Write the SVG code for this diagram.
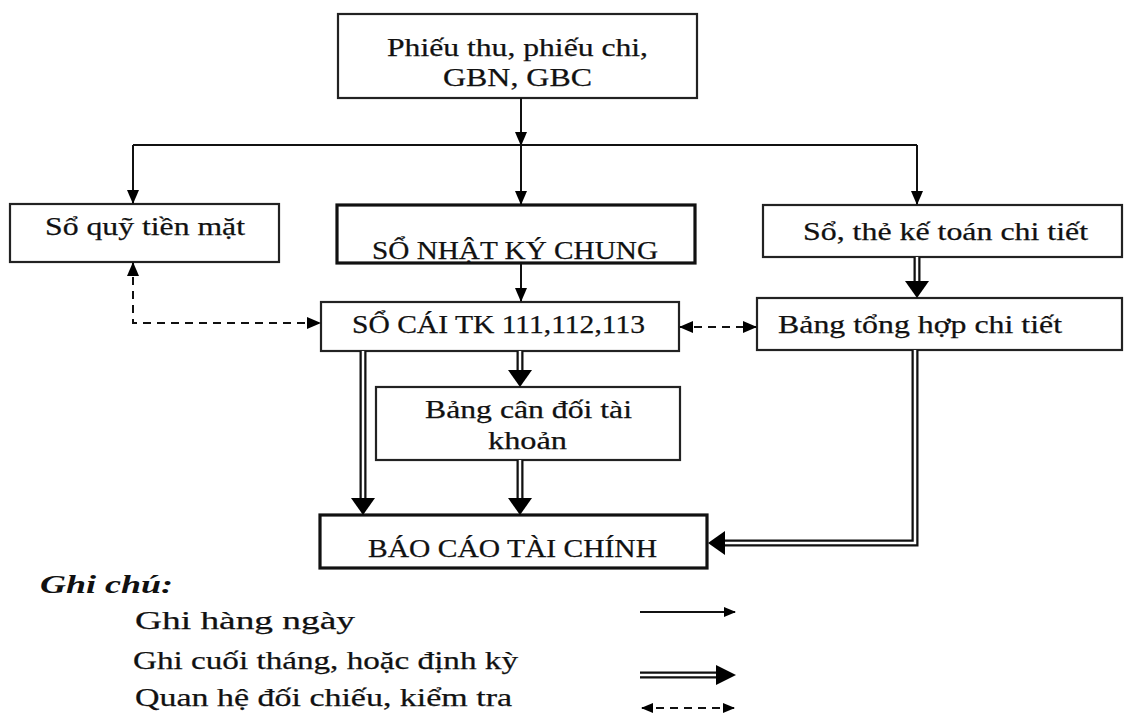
<svg xmlns="http://www.w3.org/2000/svg" width="1125" height="718" viewBox="0 0 1125 718">
  <style>
    .box { fill: #fff; stroke: #222; stroke-width: 2.2; }
    .box-thick { fill: #fff; stroke: #111; stroke-width: 3.2; }
    .lbl { font-family: "Liberation Serif", "Times New Roman", serif; font-size: 26px; fill: #111; stroke: #111; stroke-width: 0.25; }
    .legend-title { font-family: "Liberation Serif", "Times New Roman", serif; font-size: 26px; font-weight: bold; font-style: italic; fill: #111; }
    .line { fill: none; stroke: #111; stroke-width: 2; }
    .dash { fill: none; stroke: #111; stroke-width: 2; stroke-dasharray: 8 6; }
    .dbl-out { fill: none; stroke: #111; stroke-width: 7; }
    .dbl-in { fill: none; stroke: #fff; stroke-width: 2.5; }
    .head { fill: #000; }
  </style>
  <defs>
    <marker id="arrow" markerUnits="userSpaceOnUse" markerWidth="14" markerHeight="12" refX="13" refY="6" orient="auto-start-reverse">
      <path d="M0,0 L14,6 L0,12 z" fill="#000"/>
    </marker>
    <marker id="arrow-small" markerUnits="userSpaceOnUse" markerWidth="12" markerHeight="10" refX="11" refY="5" orient="auto-start-reverse">
      <path d="M0,0 L12,5 L0,10 z" fill="#000"/>
    </marker>
  </defs>

  <!-- nodes -->
  <g id="chung-tu">
    <rect class="box" x="338" y="14" width="359" height="84"/>
    <text class="lbl" x="387" y="56" textLength="261" lengthAdjust="spacingAndGlyphs">Phiếu thu, phiếu chi,</text>
    <text class="lbl" x="443" y="86" textLength="149" lengthAdjust="spacingAndGlyphs">GBN, GBC</text>
  </g>
  <g id="so-quy">
    <rect class="box" x="10" y="204" width="269" height="58"/>
    <text class="lbl" x="45" y="235" textLength="200" lengthAdjust="spacingAndGlyphs">Sổ quỹ tiền mặt</text>
  </g>
  <g id="nhat-ky-chung">
    <rect class="box-thick" x="337" y="205" width="358" height="58"/>
    <text class="lbl" x="372" y="259" textLength="286" lengthAdjust="spacingAndGlyphs">SỔ NHẬT KÝ CHUNG</text>
  </g>
  <g id="so-the-chi-tiet">
    <rect class="box" x="763" y="205" width="359" height="52"/>
    <text class="lbl" x="803" y="240" textLength="285" lengthAdjust="spacingAndGlyphs">Sổ, thẻ kế toán chi tiết</text>
  </g>
  <g id="so-cai">
    <rect class="box" x="321" y="302" width="358" height="49"/>
    <text class="lbl" x="352" y="333" textLength="293" lengthAdjust="spacingAndGlyphs">SỔ CÁI TK 111,112,113</text>
  </g>
  <g id="tong-hop-chi-tiet">
    <rect class="box" x="757" y="298" width="365" height="52"/>
    <text class="lbl" x="778" y="333" textLength="284" lengthAdjust="spacingAndGlyphs">Bảng tổng hợp chi tiết</text>
  </g>
  <g id="can-doi-tai-khoan">
    <rect class="box" x="376" y="387" width="304" height="73"/>
    <text class="lbl" x="425" y="418" textLength="207" lengthAdjust="spacingAndGlyphs">Bảng cân đối tài</text>
    <text class="lbl" x="488" y="449" textLength="79" lengthAdjust="spacingAndGlyphs">khoản</text>
  </g>
  <g id="bao-cao-tai-chinh">
    <rect class="box-thick" x="320" y="515" width="387" height="53"/>
    <text class="lbl" x="368" y="557" textLength="289" lengthAdjust="spacingAndGlyphs">BÁO CÁO TÀI CHÍNH</text>
  </g>

  <!-- connectors -->
  <g id="connectors">
    <!-- daily entries -->
    <path class="line" d="M521,98 V145" marker-end="url(#arrow)"/>
    <path class="line" d="M133,145 H917"/>
    <path class="line" d="M133,145 V203" marker-end="url(#arrow)"/>
    <path class="line" d="M521,145 V204" marker-end="url(#arrow)"/>
    <path class="line" d="M917,145 V204" marker-end="url(#arrow)"/>
    <path class="line" d="M521,263 V301" marker-end="url(#arrow)"/>

    <!-- cross-checking -->
    <path class="dash" d="M133,263 V323 H320" marker-start="url(#arrow)" marker-end="url(#arrow)"/>
    <path class="dash" d="M680,327 H756" marker-start="url(#arrow)" marker-end="url(#arrow)"/>

    <!-- month-end postings -->
    <path class="dbl-out" d="M917,257 V283"/>
    <path class="dbl-in" d="M917,257 V284"/>
    <polygon class="head" points="905,281 929,281 917,298"/>

    <path class="dbl-out" d="M520,351 V372"/>
    <path class="dbl-in" d="M520,351 V373"/>
    <polygon class="head" points="508,370 532,370 520,387"/>

    <path class="dbl-out" d="M363,351 V500"/>
    <path class="dbl-in" d="M363,351 V501"/>
    <polygon class="head" points="351,498 375,498 363,515"/>

    <path class="dbl-out" d="M520,460 V500"/>
    <path class="dbl-in" d="M520,460 V501"/>
    <polygon class="head" points="508,498 532,498 520,515"/>

    <path class="dbl-out" d="M915,350 V543 H722"/>
    <path class="dbl-in" d="M915,350 V543 H721"/>
    <polygon class="head" points="725,531 725,555 708,543"/>
  </g>

  <!-- legend -->
  <g id="legend">
    <text class="legend-title" x="40" y="593" textLength="133" lengthAdjust="spacingAndGlyphs">Ghi chú:</text>
    <text class="lbl" x="135" y="629" textLength="220" lengthAdjust="spacingAndGlyphs">Ghi hàng ngày</text>
    <text class="lbl" x="133" y="669" textLength="385" lengthAdjust="spacingAndGlyphs">Ghi cuối tháng, hoặc định kỳ</text>
    <text class="lbl" x="135" y="706" textLength="377" lengthAdjust="spacingAndGlyphs">Quan hệ đối chiếu, kiểm tra</text>

    <path class="line" d="M640,612 H735" marker-end="url(#arrow-small)"/>
    <path class="dbl-out" d="M640,675 H718"/>
    <path class="dbl-in" d="M639,675 H719"/>
    <polygon class="head" points="716,665 716,685 736,675"/>
    <path class="dash" d="M642,708 H734" stroke-dasharray="8 6" marker-start="url(#arrow-small)" marker-end="url(#arrow-small)"/>
  </g>
</svg>
